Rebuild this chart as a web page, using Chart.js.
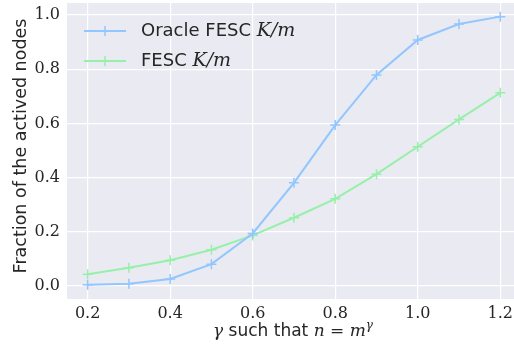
<!DOCTYPE html>
<html>
<head>
<meta charset="utf-8">
<script src="https://cdn.jsdelivr.net/npm/chart.js@4"></script>
<style>
  html, body { margin: 0; padding: 0; background: #fff; }
  #wrap { width: 514px; height: 347px; }
</style>
</head>
<body>
<div id="wrap"><canvas id="c" width="514" height="347"></canvas></div>
<script>
// data
const gammas = [0.2, 0.3, 0.4, 0.5, 0.6, 0.7, 0.8, 0.9, 1.0, 1.1, 1.2];
const oracleFesc = [0.005, 0.009, 0.026, 0.081, 0.194, 0.381, 0.594, 0.779, 0.908, 0.967, 0.994];
const fesc = [0.044, 0.068, 0.095, 0.134, 0.187, 0.252, 0.322, 0.413, 0.514, 0.615, 0.713];
const xTicks = [0.2, 0.4, 0.6, 0.8, 1.0, 1.2];
const yTicks = [0.0, 0.2, 0.4, 0.6, 0.8, 1.0];

const BLUE = '#92C6FF';
const GREEN = '#97F0AA';
const TEXT = '#262626';
const SANS = '"DejaVu Sans", sans-serif';
const SERIF = '"DejaVu Serif", serif';

function pts(xs, ys) {
    return xs.map((x, i) => ({ x: x, y: ys[i] }));
}

// legend + axis titles with mixed math fonts
const decorations = {
    id: 'decorations',
    beforeDraw(chart) {
        const { ctx, chartArea: a } = chart;
        ctx.save();
        ctx.fillStyle = '#EAEAF2';
        ctx.fillRect(a.left, a.top, a.right - a.left, a.bottom - a.top);
        ctx.restore();
    },
    afterDraw(chart) {
        const ctx = chart.ctx;
        ctx.save();
        ctx.fillStyle = TEXT;
        ctx.textBaseline = 'middle';

        // legend
        const items = [
            { name: 'Oracle FESC ', color: BLUE, y: 31 },
            { name: 'FESC ', color: GREEN, y: 61 }
        ];
        items.forEach(it => {
            ctx.strokeStyle = it.color;
            ctx.lineWidth = 2;
            ctx.beginPath();
            ctx.moveTo(84, it.y);
            ctx.lineTo(126, it.y);
            ctx.stroke();
            ctx.lineWidth = 1.5;
            ctx.beginPath();
            ctx.moveTo(105 - 5, it.y);
            ctx.lineTo(105 + 5, it.y);
            ctx.moveTo(105, it.y - 5);
            ctx.lineTo(105, it.y + 5);
            ctx.stroke();

            ctx.textAlign = 'left';
            ctx.font = '18px ' + SANS;
            ctx.fillText(it.name, 141, it.y);
            let x = 141 + ctx.measureText(it.name).width;
            ctx.font = 'italic 19px ' + SERIF;
            ctx.fillText('K/m', x, it.y);
        });

        // y title
        ctx.save();
        ctx.translate(21, 146);
        ctx.rotate(-Math.PI / 2);
        ctx.textAlign = 'center';
        ctx.font = '17.5px ' + SANS;
        ctx.fillText('Fraction of the actived nodes', 0, 0);
        ctx.restore();

        // x title
        const parts = [
            { t: 'γ', f: 'italic 17px ' + SERIF, dy: 0 },
            { t: ' such that ', f: '17px ' + SANS, dy: 0 },
            { t: 'n', f: 'italic 17px ' + SERIF, dy: 0 },
            { t: ' = ', f: '17px ' + SERIF, dy: 0 },
            { t: 'm', f: 'italic 17px ' + SERIF, dy: 0 },
            { t: 'γ', f: 'italic 12px ' + SERIF, dy: -6 }
        ];
        let total = 0;
        parts.forEach(p => { ctx.font = p.f; p.w = ctx.measureText(p.t).width; total += p.w; });
        let x = 293 - total / 2;
        ctx.textAlign = 'left';
        parts.forEach(p => {
            ctx.font = p.f;
            ctx.fillText(p.t, x, 332 + p.dy);
            x += p.w;
        });
        ctx.restore();
    }
};

const common = {
    borderWidth: 2,
    pointStyle: 'cross',
    pointRadius: 5,
    pointBorderWidth: 1.5,
    pointHoverRadius: 5,
    tension: 0,
    fill: false
};

new Chart(document.getElementById('c'), {
    type: 'line',
    data: {
        datasets: [
            Object.assign({ label: 'Oracle FESC K/m', data: pts(gammas, oracleFesc), borderColor: BLUE, backgroundColor: BLUE }, common),
            Object.assign({ label: 'FESC K/m', data: pts(gammas, fesc), borderColor: GREEN, backgroundColor: GREEN }, common)
        ]
    },
    options: {
        responsive: false,
        animation: false,
        layout: { autoPadding: false, padding: { top: 3, right: 0, left: 0, bottom: 0 } },
        plugins: {
            legend: { display: false },
            tooltip: { enabled: false }
        },
        scales: {
            x: {
                type: 'linear',
                min: 0.15,
                max: 1.2333,
                afterBuildTicks: s => { s.ticks = xTicks.map(v => ({ value: v })); },
                afterFit: s => { s.height = 48; s.paddingLeft = 0; s.paddingRight = 0; },
                grid: { color: '#ffffff', lineWidth: 1.2, drawTicks: false },
                border: { display: false },
                ticks: {
                    color: TEXT,
                    padding: 5,
                    maxRotation: 0,
                    font: { family: SERIF, size: 16 },
                    callback: v => v.toFixed(1)
                }
            },
            y: {
                type: 'linear',
                min: -0.0476,
                max: 1.0443,
                afterBuildTicks: s => { s.ticks = yTicks.map(v => ({ value: v })); },
                afterFit: s => { s.width = 67; s.paddingTop = 0; s.paddingBottom = 0; },
                grid: { color: '#ffffff', lineWidth: 1.2, drawTicks: false },
                border: { display: false },
                ticks: {
                    color: TEXT,
                    padding: 7,
                    font: { family: SERIF, size: 16 },
                    callback: v => v.toFixed(1)
                }
            }
        }
    },
    plugins: [decorations]
});
</script>
</body>
</html>
